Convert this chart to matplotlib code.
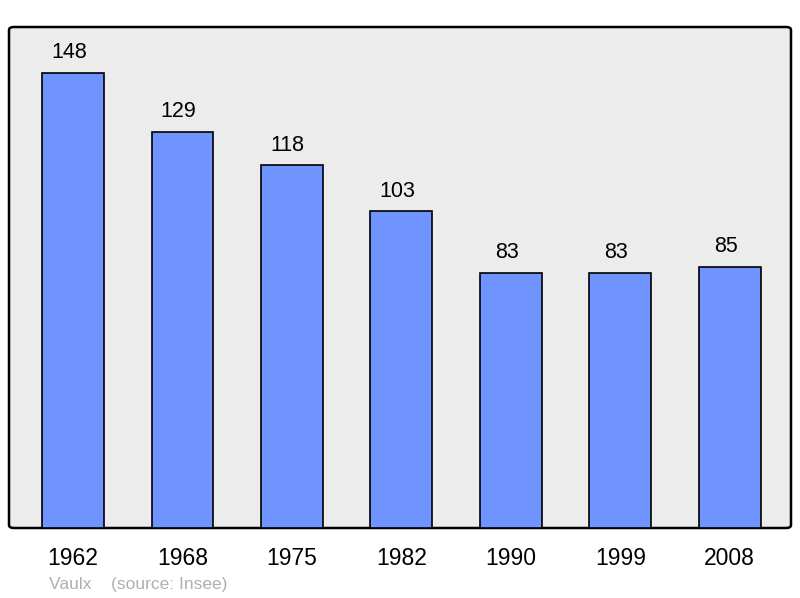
import matplotlib.pyplot as plt
from matplotlib.patches import FancyBboxPatch

# population by census year
years = ['1962', '1968', '1975', '1982', '1990', '1999', '2008']
population = [148, 129, 118, 103, 83, 83, 85]

plt.rcParams['font.family'] = ['Liberation Sans', 'DejaVu Sans']

fig = plt.figure(figsize=(8, 5.98), dpi=100)
# axes box in pixels: x 9..791, y 27..528
ax = fig.add_axes([9 / 800, (598 - 528) / 598, 782 / 800, 501 / 598])
ax.set_facecolor('none')

# rounded background frame
bg = FancyBboxPatch((0, 0), 1, 1, boxstyle='round,pad=0,rounding_size=0.006',
                    transform=ax.transAxes, facecolor='#ececec', edgecolor='black',
                    linewidth=1.8, zorder=0, clip_on=False)
ax.add_patch(bg)

x = range(len(years))
ax.bar(x, population, width=0.566, color='#7094ff', edgecolor='black',
       linewidth=1.2, zorder=2)

for xi, v in zip(x, population):
    ax.annotate(str(v), (xi, v), xytext=(-3, 7), textcoords='offset points',
                ha='center', va='bottom', fontsize=15.5)

ax.set_xlim(-0.585, 6.56)
ax.set_ylim(0, 163)
ax.set_xticks(list(x))
ax.set_xticklabels(years, fontsize=16.5)
ax.tick_params(axis='x', length=0, pad=14)
ax.set_yticks([])
for s in ax.spines.values():
    s.set_visible(False)

fig.text(49 / 800, 1 - 585 / 598, 'Vaulx    (source: Insee)', fontsize=12.5,
         color='#b0b0b0', va='center', ha='left')

fig.savefig('out.png', dpi=100)
